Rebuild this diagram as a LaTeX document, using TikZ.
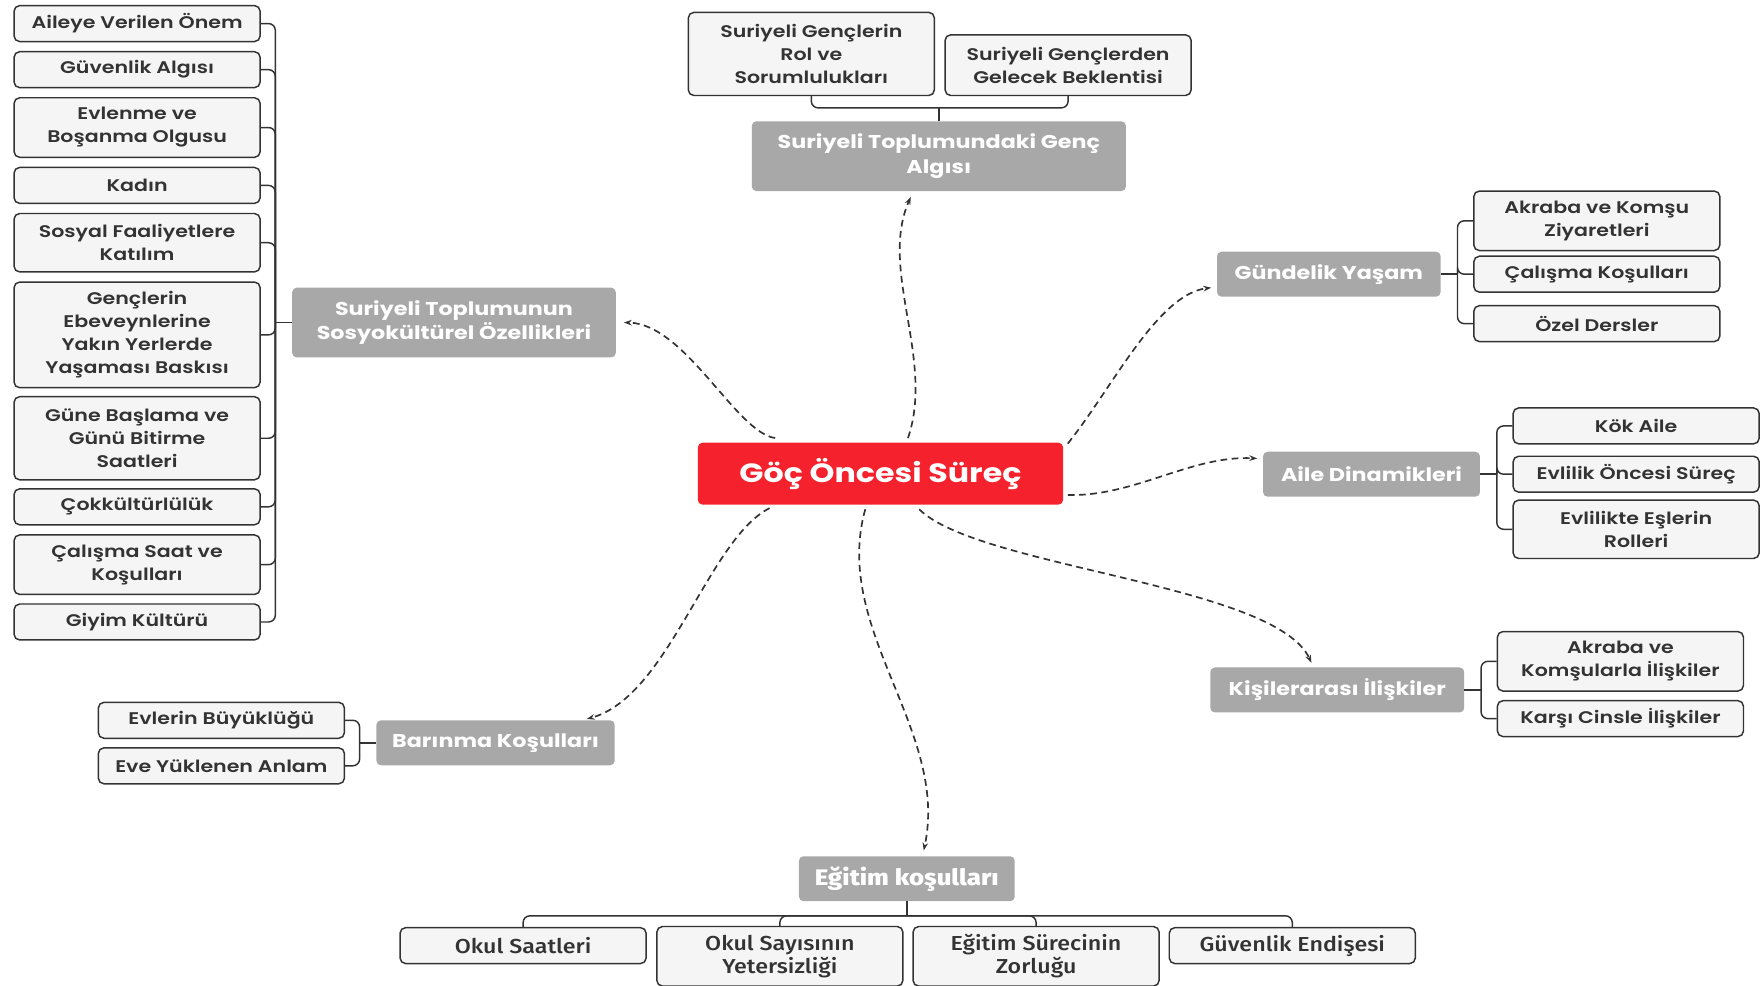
\documentclass[tikz,border=0pt]{standalone}
\usepackage{fontspec}
\setmainfont{Poppins}[FakeStretch=1.2]
\newfontfamily\medfont{Poppins SemiBold}[FakeStretch=1.22]
\newfontfamily\narrowfont{Fira Sans Medium}[FakeStretch=1.15]
\usetikzlibrary{arrows.meta,calc}

\definecolor{gocred}{HTML}{F5222D}
\definecolor{maingray}{HTML}{A8A8A8}
\definecolor{subfill}{HTML}{F5F5F5}
\definecolor{linkgray}{HTML}{333333}

\begin{document}
\begin{tikzpicture}[x=1pt,y=-1pt,
  root/.style={fill=gocred, rounded corners=4, text=white, inner sep=0pt,
    font=\bfseries\fontsize{23.5}{27}\selectfont, minimum width=325, minimum height=55},
  main/.style={fill=maingray, rounded corners=4, text=white, inner sep=0pt, align=center,
    font=\bfseries\fontsize{16.5}{22}\selectfont, minimum height=40},
  sub/.style={draw=linkgray, line width=1.3, fill=subfill, rounded corners=5, text=linkgray,
    inner sep=0pt, align=center, font=\medfont\fontsize{15}{20.5}\selectfont,
    minimum width=219, minimum height=32},
  subn/.style={sub, font=\narrowfont\fontsize{18}{20.5}\selectfont},
  link/.style={draw=linkgray, line width=1.3, rounded corners=6},
  flow/.style={draw=linkgray, line width=1.5, dash pattern=on 6pt off 4pt,
    -{Stealth[length=7pt,width=5pt]}}]
  \useasboundingbox (0,0) rectangle (1568,877);

  \node[root] (Goc) at (783.5,421.5) {Göç Öncesi Süreç};

  % main topics
  \node[main, minimum width=288, minimum height=62] (Sosyo) at (404,287) {Suriyeli Toplumunun\\Sosyokültürel Özellikleri};
  \node[main, minimum width=333, minimum height=62] (Genc) at (835.5,139) {Suriyeli Toplumundaki Genç\\Algısı};
  \node[main, minimum width=199] (Gundelik) at (1182.5,244) {Gündelik Yaşam};
  \node[main, minimum width=193] (Aile) at (1220.5,422) {Aile Dinamikleri};
  \node[main, minimum width=226] (Kisi) at (1190,614) {Kişilerarası İlişkiler};
  \node[main, minimum width=212] (Barinma) at (441,661) {Barınma Koşulları};
  \node[main, minimum width=192, font=\narrowfont\bfseries\fontsize{20}{22}\selectfont] (Egitim) at (807,782) {Eğitim koşulları};

  % left column
  \node[sub] (Aileye) at (122,21) {Aileye Verilen Önem};
  \node[sub] (Guvenlik) at (122,62) {Güvenlik Algısı};
  \node[sub, minimum height=53] (Evlenme) at (122,113.5) {Evlenme ve\\Boşanma Olgusu};
  \node[sub] (Kadin) at (122,165) {Kadın};
  \node[sub, minimum height=52] (Sosyal) at (122,216) {Sosyal Faaliyetlere\\Katılım};
  \node[sub, minimum height=94] (Genclerin) at (122,298) {Gençlerin\\Ebeveynlerine\\Yakın Yerlerde\\Yaşaması Baskısı};
  \node[sub, minimum height=74] (Gune) at (122,390) {Güne Başlama ve\\Günü Bitirme\\Saatleri};
  \node[sub] (Cokkultur) at (122,451) {Çokkültürlülük};
  \node[sub, minimum height=53] (CalSaat) at (122,502.5) {Çalışma Saat ve\\Koşulları};
  \node[sub] (Giyim) at (122,553.5) {Giyim Kültürü};

  % top
  \node[sub, minimum height=74] (Rol) at (722,48) {Suriyeli Gençlerin\\Rol ve\\Sorumlulukları};
  \node[sub, minimum height=54] (Gelecek) at (950.5,58) {Suriyeli Gençlerden\\Gelecek Beklentisi};

  % right
  \node[sub, minimum height=53] (AkrZiyaret) at (1421,196.5) {Akraba ve Komşu\\Ziyaretleri};
  \node[sub] (CalKosul) at (1421,244) {Çalışma Koşulları};
  \node[sub] (Ozel) at (1421,288) {Özel Dersler};

  \node[sub] (Kok) at (1456,379) {Kök Aile};
  \node[sub] (EvOnce) at (1456,422) {Evlilik Öncesi Süreç};
  \node[sub, minimum height=52] (Eslerin) at (1456,471) {Evlilikte Eşlerin\\Rolleri};

  \node[sub, minimum height=53] (AkrKomsu) at (1442,588.5) {Akraba ve\\Komşularla İlişkiler};
  \node[sub] (Karsi) at (1442,639.5) {Karşı Cinsle İlişkiler};

  % bottom left
  \node[sub] (EvBuyuk) at (197,641) {Evlerin Büyüklüğü};
  \node[sub] (EvAnlam) at (197,681.5) {Eve Yüklenen Anlam};

  % bottom
  \node[subn] (OkulSaat) at (465.5,841.5) {Okul Saatleri};
  \node[subn, minimum height=53] (OkulSayi) at (694,851) {Okul Sayısının\\Yetersizliği};
  \node[subn, minimum height=53] (EgitSurec) at (922,851) {Eğitim Sürecinin\\Zorluğu};
  \node[subn] (GuvEndise) at (1150,841.5) {Güvenlik Endişesi};

  % bracket joints
  \coordinate (SosyoBrk) at (245,287);
  \coordinate (GencBrk) at (835.5,96);
  \coordinate (GundelikBrk) at (1297,244);
  \coordinate (AileBrk) at (1332,422);
  \coordinate (KisiBrk) at (1318,614);
  \coordinate (BarinmaBrk) at (320,661);
  \coordinate (EgitimBrk) at (807,815);

  \draw[link] (Sosyo.west) -- (SosyoBrk);
  \draw[link] (SosyoBrk) |- (Aileye.east);
  \draw[link] (SosyoBrk) |- (Guvenlik.east);
  \draw[link] (SosyoBrk) |- (Evlenme.east);
  \draw[link] (SosyoBrk) |- (Kadin.east);
  \draw[link] (SosyoBrk) |- (Sosyal.east);
  \draw[link] (SosyoBrk) |- (Genclerin.east);
  \draw[link] (SosyoBrk) |- (Gune.east);
  \draw[link] (SosyoBrk) |- (Cokkultur.east);
  \draw[link] (SosyoBrk) |- (CalSaat.east);
  \draw[link] (SosyoBrk) |- (Giyim.east);

  \draw[link] (Genc.north) -- (GencBrk);
  \draw[link] (GencBrk) -| (Rol.south);
  \draw[link] (GencBrk) -| (Gelecek.south);

  \draw[link] (Gundelik.east) -- (GundelikBrk);
  \draw[link] (GundelikBrk) |- (AkrZiyaret.west);
  \draw[link] (GundelikBrk) |- (CalKosul.west);
  \draw[link] (GundelikBrk) |- (Ozel.west);

  \draw[link] (Aile.east) -- (AileBrk);
  \draw[link] (AileBrk) |- (Kok.west);
  \draw[link] (AileBrk) |- (EvOnce.west);
  \draw[link] (AileBrk) |- (Eslerin.west);

  \draw[link] (Kisi.east) -- (KisiBrk);
  \draw[link] (KisiBrk) |- (AkrKomsu.west);
  \draw[link] (KisiBrk) |- (Karsi.west);

  \draw[link] (Barinma.west) -- (BarinmaBrk);
  \draw[link] (BarinmaBrk) |- (EvBuyuk.east);
  \draw[link] (BarinmaBrk) |- (EvAnlam.east);

  \draw[link] (Egitim.south) -- (EgitimBrk);
  \draw[link] (EgitimBrk) -| (OkulSaat.north);
  \draw[link] (EgitimBrk) -| (OkulSayi.north);
  \draw[link] (EgitimBrk) -| (EgitSurec.north);
  \draw[link] (EgitimBrk) -| (GuvEndise.north);

  % dashed arrows from the root
  \draw[flow] ($(Goc.north west)+(69,-4)$) .. controls (655,385) and (610,288) .. ($(Sosyo.east)+(7,0)$);
  \draw[flow] ($(Goc.north)+(24.5,-4)$) .. controls (832,320) and (782,240) .. ($(Genc.south)+(-25,5)$);
  \draw[flow] ($(Goc.north east)+(4,1)$) .. controls (990,345) and (1030,262) .. ($(Gundelik.west)+(-5,12)$);
  \draw[flow] ($(Goc.east)+(4,19)$) .. controls (1010,442) and (1060,405) .. ($(Aile.west)+(-5,-14)$);
  \draw[flow] ($(Goc.south)+(34.5,4)$) .. controls (870,505) and (1135,520) .. ($(Kisi.north)+(-23,-4)$);
  \draw[flow] ($(Goc.south)+(-13.5,4)$) .. controls (740,560) and (845,650) .. ($(Egitim.north)+(15,-5)$);
  \draw[flow] ($(Goc.south west)+(64,3)$) .. controls (630,480) and (595,620) .. ($(Barinma.north east)+(-25,-1)$);
\end{tikzpicture}
\end{document}
